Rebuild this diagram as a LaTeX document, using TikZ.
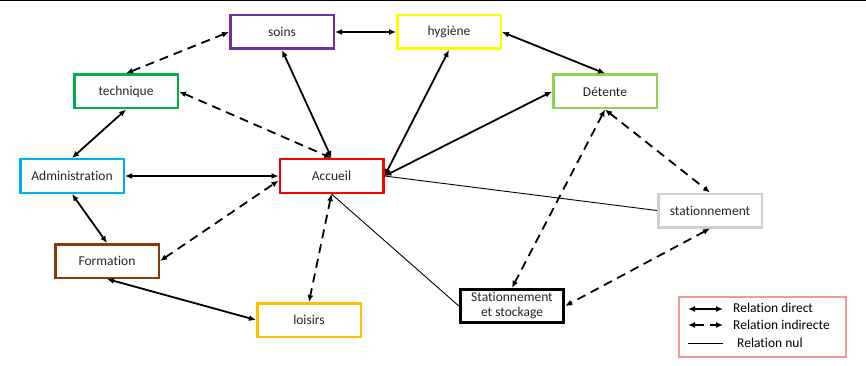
\documentclass[tikz,border=0pt]{standalone}
\usepackage{fontspec}
\setmainfont{Carlito}[Ligatures=NoCommon]
\usetikzlibrary{positioning,arrows.meta}
\definecolor{accred}{HTML}{FF0000}
\definecolor{soinpurple}{HTML}{7030A0}
\definecolor{hygyellow}{HTML}{FFFF00}
\definecolor{techgreen}{HTML}{00B050}
\definecolor{detgreen}{HTML}{92D050}
\definecolor{admcyan}{HTML}{00B0F0}
\definecolor{statgray}{HTML}{D0CECE}
\definecolor{formbrown}{HTML}{843C0C}
\definecolor{loisgold}{HTML}{FFC000}
\definecolor{legpink}{HTML}{F49A9A}
\newcommand\bw{103.5pt}
\newcommand\bh{33.5pt}
\newcommand\rowa{144pt}
\newcommand\rowb{84.5pt}
\tikzset{
  box/.style={draw, line width=2.5pt, minimum width=\bw, minimum height=\bh,
    inner sep=0pt, fill=white, text=black!85, font=\fontsize{13.5}{16}\selectfont},
  direct/.style={line width=1.8pt, {Latex[length=7pt,width=6pt]}-{Latex[length=7pt,width=6pt]}},
  indirect/.style={direct, dash pattern=on 9pt off 6pt},
  nul/.style={line width=0.9pt},
  legtext/.style={anchor=west, inner sep=0pt, font=\fontsize{13.5}{16}\selectfont},
}

\begin{document}
\begin{tikzpicture}[x=1pt, y=-1pt, on grid]
  \useasboundingbox (0,0) rectangle (866,366);
  \draw[line width=1.5pt] (0,0.75) -- (866,0.75);

  \node[box, draw=accred] (accueil) at (331.5,176) {Accueil};
  % top row
  \node[box, draw=soinpurple, above left=\rowa and 49.5pt of accueil] (soins) {soins};
  \node[box, draw=hygyellow, right=167pt of soins] (hygiene) {hygiène};
  \node[box, draw=techgreen, above left=\rowb and 205.5pt of accueil] (technique) {technique};
  \node[box, draw=detgreen, above right=\rowb and 273.5pt of accueil] (detente) {Détente};
  % middle and bottom
  \node[box, draw=admcyan, left=259.5pt of accueil] (admin) {Administration};
  \node[box, draw=statgray, below right=34.5pt and 378.5pt of accueil] (stationnement) {stationnement};
  \node[box, draw=formbrown, below left=85pt and 224.5pt of accueil] (formation) {Formation};
  \node[box, draw=loisgold, below left=\rowa and 22.5pt of accueil] (loisirs) {loisirs};
  \node[box, draw=black, line width=2.8pt, align=center, below right=130pt and 180.5pt of accueil] (stockage)
    {Stationnement\\[-1pt]et stockage};

  % relations
  \draw[direct] (soins.east) -- (hygiene.west);
  \draw[direct] (hygiene.east) -- (detente.north);
  \draw[indirect] (technique.north) -- (soins.west);
  \draw[direct] (technique.south) -- (admin.north);
  \draw[direct] (admin.east) -- (accueil.west);
  \draw[direct] (admin.south) -- (formation.north);
  \draw[direct] (formation.south) -- (loisirs.west);
  \draw[indirect] (formation.east) -- (accueil.185);
  \draw[indirect] (technique.east) -- (accueil.north);
  \draw[direct] (soins.south) -- (accueil.north);
  \draw[direct] (accueil.east) -- (hygiene.south);
  \draw[direct] (accueil.east) -- (detente.west);
  \draw[nul] (accueil.east) -- (stationnement.west);
  \draw[indirect] (accueil.south) -- (loisirs.north);
  \draw[nul] (accueil.south) -- (stockage.west);
  \draw[indirect] (detente.south) -- (stockage.north);
  \draw[indirect] (detente.south) -- (stationnement.north);
  \draw[indirect] (stationnement.south) -- (stockage.east);

  % legend
  \node[draw=legpink, line width=1.5pt, minimum width=167pt, minimum height=60pt] (legend) at (762.5,327) {};
  \coordinate (la1) at (688,309);  \coordinate (lb1) at (723,309);
  \coordinate (la2) at (688,325);  \coordinate (lb2) at (723,325);
  \coordinate (la3) at (688,343);  \coordinate (lb3) at (723,343);
  \draw[direct] (la1) -- (lb1);
  \draw[indirect, dash pattern=on 10pt off 6pt] (la2) -- (lb2);
  \draw[nul] (la3) -- (lb3);
  \node[legtext] (legdirect) at (733,308) {Relation direct};
  \node[legtext] (legindirect) at (733,325) {Relation indirecte};
  \node[legtext] (legnul) at (737,343) {Relation nul};
\end{tikzpicture}
\end{document}
